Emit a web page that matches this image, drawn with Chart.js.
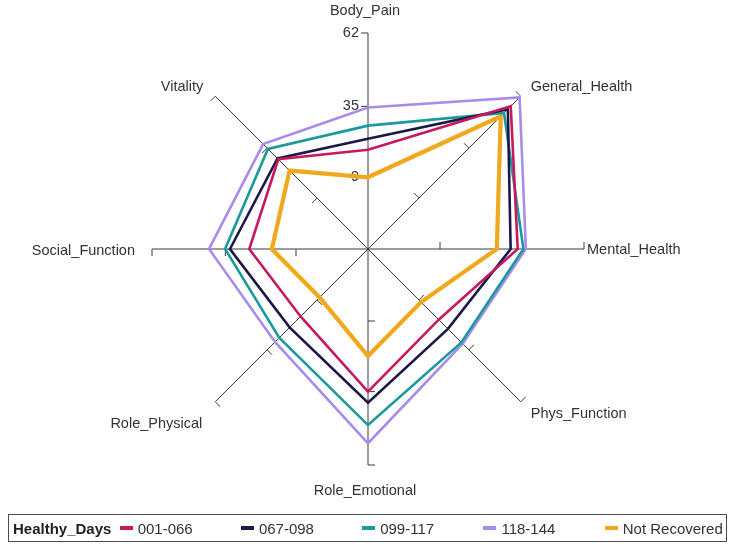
<!DOCTYPE html>
<html>
<head>
<meta charset="utf-8">
<script src="https://cdn.jsdelivr.net/npm/chart.js@4.4.1/dist/chart.umd.min.js"></script>
<style>
  body { margin: 0; background: #fff; }
  #wrap { position: relative; width: 736px; height: 552px; font-family: "Liberation Sans", Arial, sans-serif; }
  #chart { position: absolute; left: 0; top: 0; }
  #legend { position: absolute; left: 8px; top: 514px; width: 719px; height: 28px; box-sizing: border-box;
            border: 1px solid #4a4a58; display: flex; align-items: center; padding-left: 4px; color: #333; font-size: 15px; }
  #legend .title { width: 107px; font-weight: bold; color: #222; white-space: nowrap; }
  #legend .item { width: 121.7px; display: flex; align-items: center; white-space: nowrap; }
  #legend .sw { width: 13px; height: 4px; margin-right: 5px; }
</style>
</head>
<body>
<div id="wrap">
  <canvas id="chart" width="736" height="552"></canvas>
  <div id="legend"></div>
</div>
<script>
// ---- data ----
const categories = ["Body_Pain", "General_Health", "Mental_Health", "Phys_Function",
                    "Role_Emotional", "Role_Physical", "Social_Function", "Vitality"];
const legendTitle = "Healthy_Days";
const seriesNames = ["001-066", "067-098", "099-117", "118-144", "Not Recovered"];
const days001_066 = [19.0, 56.8, 37.6, 19.3, 35.0, 17.6, 26.2, 29.2];
const days067_098 = [23.1, 55.3, 35.0, 24.1, 39.1, 23.3, 33.3, 29.6];
const days099_117 = [27.9, 53.3, 39.7, 31.1, 47.3, 28.7, 35.1, 34.6];
const days118_144 = [34.6, 61.4, 40.6, 31.8, 54.0, 30.9, 41.0, 37.1];
const notRecovered = [8.9, 51.6, 29.9, 10.1, 21.9, 7.7, 17.9, 23.3];
const tickValues = [9, 35, 62];
const axisMin = -17.5;
const axisMax = 62;

const seriesData = [days001_066, days067_098, days099_117, days118_144, notRecovered];
const seriesColors = ["#C8195F", "#1B1848", "#1C999B", "#A98BEB", "#F2A81C"];
const seriesWidths = [2.6, 2.6, 2.6, 2.6, 4.2];

// ---- decorations: axis tick marks, tick labels, axis names ----
const labelLayout = [
  { align: "center", dx: -3,  dy: -22 },
  { align: "left",   dx: 10,  dy: -9 },
  { align: "left",   dx: 3,   dy: 1 },
  { align: "left",   dx: 10,  dy: 12 },
  { align: "center", dx: -3,  dy: 26 },
  { align: "right",  dx: -13, dy: 22 },
  { align: "right",  dx: -17, dy: 2 },
  { align: "right",  dx: -12, dy: -9 }
];

const axisDecor = {
  id: "axisDecor",
  beforeDatasetsDraw(chart) {
    const s = chart.scales.r;
    const ctx = chart.ctx;
    ctx.save();
    ctx.strokeStyle = "#3a3a3a";
    ctx.lineWidth = 1;
    categories.forEach((c, i) => {
      const a = s.getIndexAngle(i) - Math.PI / 2;
      const dx = Math.cos(a), dy = Math.sin(a);
      const tx = dy, ty = -dx;
      tickValues.forEach(v => {
        const p = s.getPointPositionForValue(i, v);
        ctx.beginPath();
        ctx.moveTo(p.x, p.y);
        ctx.lineTo(p.x + tx * 7, p.y + ty * 7);
        ctx.stroke();
      });
    });
    ctx.fillStyle = "#333";
    ctx.font = '14.5px "Liberation Sans", Arial, sans-serif';
    ctx.textAlign = "right";
    ctx.textBaseline = "middle";
    tickValues.forEach(v => {
      const p = s.getPointPositionForValue(0, v);
      ctx.fillText(String(v), p.x - 9, p.y);
    });
    categories.forEach((c, i) => {
      const p = s.getPointPositionForValue(i, axisMax);
      const L = labelLayout[i];
      ctx.textAlign = L.align;
      ctx.fillText(c, p.x + L.dx, p.y + L.dy);
    });
    ctx.restore();
  }
};

new Chart(document.getElementById("chart"), {
  type: "radar",
  data: {
    labels: categories,
    datasets: seriesNames.map((n, k) => ({
      label: n,
      data: seriesData[k],
      borderColor: seriesColors[k],
      backgroundColor: seriesColors[k],
      borderWidth: seriesWidths[k],
      fill: false,
      pointRadius: 0,
      pointHoverRadius: 0,
      tension: 0,
      borderJoinStyle: "miter"
    }))
  },
  options: {
    responsive: false,
    animation: false,
    layout: { padding: { left: 100, right: 100, top: 33, bottom: 87 } },
    plugins: { legend: { display: false }, tooltip: { enabled: false } },
    scales: {
      r: {
        min: axisMin,
        max: axisMax,
        startAngle: 0,
        grid: { display: false },
        angleLines: { display: true, color: "#3a3a3a", lineWidth: 1 },
        ticks: { display: false },
        pointLabels: { display: false }
      }
    }
  },
  plugins: [axisDecor]
});

// ---- HTML legend ----
const lg = document.getElementById("legend");
const t = document.createElement("div");
t.className = "title";
t.textContent = legendTitle;
lg.appendChild(t);
seriesNames.forEach((n, k) => {
  const it = document.createElement("div");
  it.className = "item";
  const sw = document.createElement("span");
  sw.className = "sw";
  sw.style.background = seriesColors[k];
  const tx = document.createElement("span");
  tx.textContent = n;
  it.appendChild(sw);
  it.appendChild(tx);
  lg.appendChild(it);
});
</script>
</body>
</html>
